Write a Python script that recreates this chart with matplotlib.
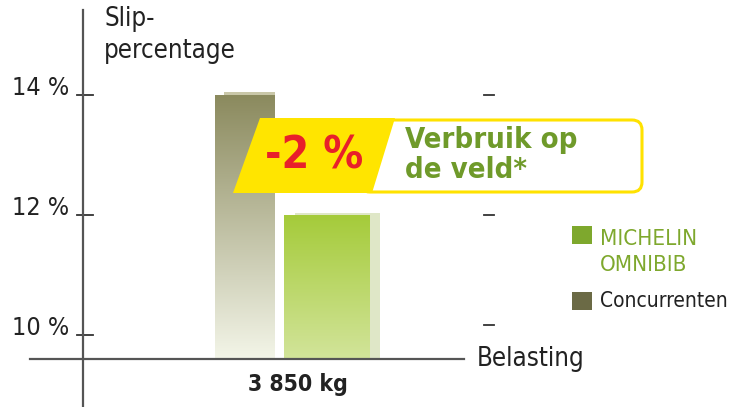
import matplotlib
matplotlib.use("Agg")
import matplotlib.pyplot as plt
import numpy as np
from matplotlib.patches import Polygon, FancyBboxPatch, Rectangle

# data
series = ["Concurrenten", "MICHELIN\nOMNIBIB"]
slip = [14.0, 12.0]
load_label = "3 850 kg"
yticks = [14, 12, 10]
ytick_labels = ["14 %", "12 %", "10 %"]
badge_value = "-2 %"
badge_text = "Verbruik op\nde veld*"

plt.rcParams["font.family"] = ["DejaVu Sans"]
plt.rcParams["font.stretch"] = "condensed"

W, H = 733, 407
fig = plt.figure(figsize=(W / 100, H / 100), dpi=100)
ax = fig.add_axes([0, 0, 1, 1])
ax.set_xlim(0, W)
# 14 % at y=95 px, 12 % at y=215 px
ax.set_ylim(14 - (H - 95) / 60, 14 + 95 / 60)
ax.axis("off")

# overlay in pixel coordinates for the badge and legend
ov = fig.add_axes([0, 0, 1, 1], zorder=3)
ov.set_xlim(0, W)
ov.set_ylim(H, 0)
ov.axis("off")
ov.patch.set_alpha(0)

base = 9.6
axis_col = "#555555"
txt = "#222222"

# axes lines
ax.plot([83, 83], [14 - (H - 95) / 60, 14 + 85 / 60], color=axis_col, lw=1.6, zorder=5)
ax.plot([30, 464], [base, base], color=axis_col, lw=1.6, zorder=5)
for v, lab in zip(yticks, ytick_labels):
    ax.plot([77, 93], [v, v], color="#333333", lw=1.3)
    ax.text(69, v + 0.12, lab, ha="right", va="center", fontsize=18, color=txt)
for v in [14, 12, 10.17]:
    ax.plot([484, 494], [v, v], color="#333333", lw=1.3)

# bars with vertical gradients
bar_x = [(215, 275), (284, 370)]
shadow = [((224, 275), 0.05, "#c9c7a8"), ((295, 380), 0.03, "#dfe7c7")]
grads = [("#8b8a5e", "#f3f5e8"), ("#a5cb3a", "#d2e49a")]
for (x0, x1), v, (sx, dv, sc), (c0, c1) in zip(bar_x, slip, shadow, grads):
    ax.add_patch(Rectangle((sx[0], base), sx[1] - sx[0], v + dv - base, color=sc, lw=0, zorder=1))
    a = np.array(matplotlib.colors.to_rgb(c0))
    b = np.array(matplotlib.colors.to_rgb(c1))
    t = np.linspace(0, 1, 200)[:, None]
    img = (a * (1 - t) + b * t)[:, None, :]
    ax.imshow(img, extent=(x0, x1, base, v), aspect="auto", origin="upper", zorder=2)

ax.text(298, base - 0.43, load_label, ha="center", va="center", fontsize=16.5,
        fontweight="bold", color=txt)
ax.text(477, base + 0.0, "Belasting", ha="left", va="center", fontsize=18.5, color=txt)
ax.text(104, 14 + 60 / 60, "Slip-\npercentage", ha="left", va="center", fontsize=18.5,
        color=txt, linespacing=1.25)

# badge
ov.add_patch(FancyBboxPatch((360, 120), 282, 72, boxstyle="round,pad=0,rounding_size=10",
                            facecolor="white", edgecolor="#ffe200", lw=2.2))
ov.add_patch(Polygon([(260, 118), (395, 118), (372, 193), (233, 193)], closed=True,
                     facecolor="#ffe500", edgecolor="none"))
ov.text(314, 156, badge_value, ha="center", va="center", fontsize=32, fontweight="bold",
        color="#e8202a")
ov.text(405, 155, badge_text, ha="left", va="center", fontsize=21, fontweight="bold",
        color="#6f9a2a", linespacing=1.05)

# legend
ov.add_patch(Rectangle((572, 226), 20, 18, color="#7ea82d", lw=0))
ov.text(600, 252, series[1], ha="left", va="center", fontsize=16, color="#7ea82d",
        linespacing=1.4)
ov.add_patch(Rectangle((572, 292), 20, 18, color="#6b6a45", lw=0))
ov.text(600, 301, series[0], ha="left", va="center", fontsize=15, color=txt)

fig.savefig("out.png", dpi=100)
